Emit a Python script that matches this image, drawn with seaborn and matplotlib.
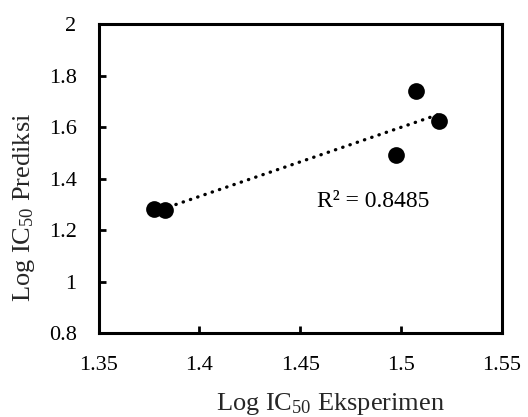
import numpy as np
import pandas as pd
import matplotlib
matplotlib.use("Agg")
import matplotlib.pyplot as plt
import seaborn as sns

# Data
log_ic50_eksperimen = [1.3775, 1.383, 1.4974, 1.5075, 1.5187]
log_ic50_prediksi = [1.284, 1.2775, 1.493, 1.7395, 1.623]
x_ticks = [1.35, 1.4, 1.45, 1.5, 1.55]
y_ticks = [0.8, 1.0, 1.2, 1.4, 1.6, 1.8, 2.0]
x_tick_labels = ["1.35", "1.4", "1.45", "1.5", "1.55"]
y_tick_labels = ["0.8", "1", "1.2", "1.4", "1.6", "1.8", "2"]
r2_text = "R² = 0.8485"

df = pd.DataFrame({"x": log_ic50_eksperimen, "y": log_ic50_prediksi})

sns.set_style("white")
plt.rcParams["font.family"] = ["Liberation Serif", "DejaVu Serif"]
plt.rcParams["mathtext.fontset"] = "custom"
plt.rcParams["mathtext.rm"] = "Liberation Serif"
plt.rcParams["mathtext.it"] = "Liberation Serif:italic"

fig = plt.figure(figsize=(5.28, 4.17), dpi=100)
ax = fig.add_axes([0.187, 0.2007, 0.763, 0.7417])

sns.regplot(data=df, x="x", y="y", scatter=False, ci=None, ax=ax,
            line_kws=dict(color="black", linewidth=2.4, linestyle=(0, (0.1, 2.2)),
                          dash_capstyle="round"))
sns.scatterplot(data=df, x="x", y="y", ax=ax, s=145, color="black",
                edgecolor="black", linewidth=0, zorder=3)

ax.set_xlim(1.35, 1.55)
ax.set_ylim(0.8, 2.0)
ax.set_xticks(x_ticks)
ax.set_xticklabels(x_tick_labels, fontsize=16)
ax.set_yticks(y_ticks)
ax.set_yticklabels(y_tick_labels, fontsize=16)
ax.tick_params(axis="both", direction="in", length=5, width=2, colors="black",
               bottom=True, left=True, top=False, right=False)
ax.tick_params(axis="x", pad=16)
ax.tick_params(axis="y", pad=16)

for sp in ax.spines.values():
    sp.set_visible(True)
    sp.set_color("black")
    sp.set_linewidth(2.2)

ax.set_xlabel("Log IC$_{50}$ Eksperimen", fontsize=19, va="center", ha="center")
ax.xaxis.set_label_coords(0.574, -0.229)
ax.set_ylabel("Log IC$_{50}$ Prediksi", fontsize=19, va="center", ha="center")
ax.yaxis.set_label_coords(-0.1866, 0.407)

ax.text(1.4585, 1.31, r2_text, fontsize=17, ha="left", va="center", color="black")

fig.savefig("out.png", dpi=100)
